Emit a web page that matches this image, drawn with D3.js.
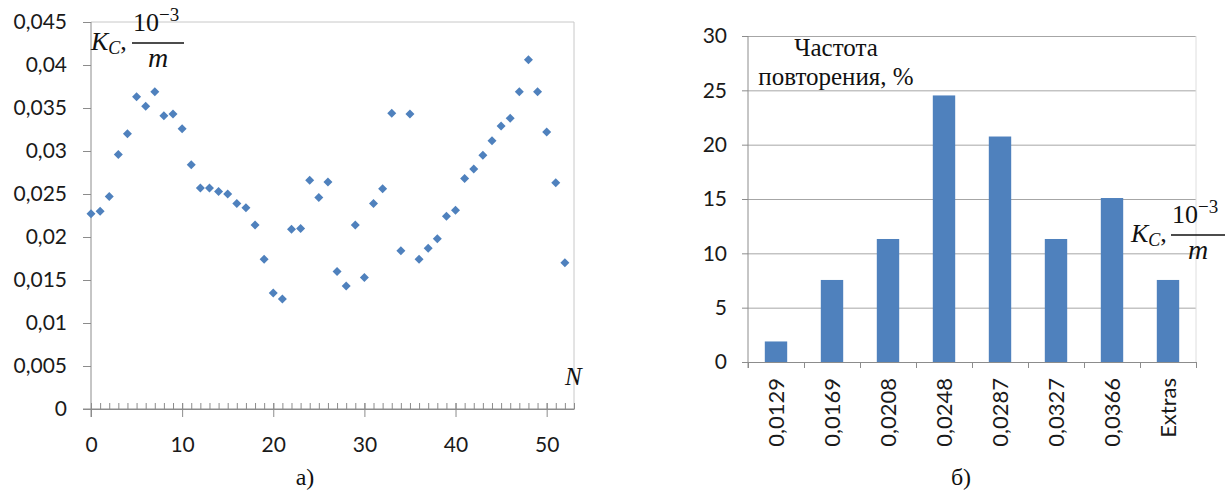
<!DOCTYPE html>
<html><head><meta charset="utf-8">
<script src="https://cdn.jsdelivr.net/npm/d3@7"></script>
<style>
html,body{margin:0;padding:0;background:#fff;}
svg{display:block;}
.tick text{font-family:Lato,"Open Sans",sans-serif;fill:#1a1a1a;}
.serif{font-family:"Liberation Serif","DejaVu Serif",serif;fill:#111;}
</style></head>
<body>
<svg id="chart" width="1230" height="497"></svg>
<script>
// ---- data: panel a) scatter ----
const sampleN = d3.range(0, 53);
const kcValues = [0.0227,0.0230,0.0247,0.0296,0.0320,0.0363,0.0352,0.0369,0.0341,0.0343,
  0.0326,0.0284,0.0257,0.0257,0.0253,0.0250,0.0239,0.0234,0.0214,0.0174,
  0.0135,0.0128,0.0209,0.0210,0.0266,0.0246,0.0264,0.0160,0.0143,0.0214,
  0.0153,0.0239,0.0256,0.0344,0.0184,0.0343,0.0174,0.0187,0.0198,0.0224,
  0.0231,0.0268,0.0279,0.0295,0.0312,0.0329,0.0338,0.0369,0.0406,0.0369,
  0.0322,0.0263,0.0170];
const yTicksA = [0,0.005,0.01,0.015,0.02,0.025,0.03,0.035,0.04,0.045];
const xTicksA = [0,10,20,30,40,50];
// ---- data: panel б) histogram ----
const binLabels = ["0,0129","0,0169","0,0208","0,0248","0,0287","0,0327","0,0366","Extras"];
const binFreq = [1.89,7.55,11.32,24.53,20.75,11.32,15.09,7.55];
const yTicksB = [0,5,10,15,20,25,30];

const svg = d3.select("#chart");
svg.append("rect").attr("width",1230).attr("height",497).attr("fill","#fff");
const fmtComma = d => String(d).replace(".", ",");
const axisCol = "#8c8c8c";

// ================= Panel a =================
const xA = d3.scaleLinear().domain([0,53]).range([91,574]);
const yA = d3.scaleLinear().domain([0,0.045]).range([409,22]);
const gA = svg.append("g");
gA.append("path").attr("d",`M${xA(0)},${yA(0.045)}H${xA(53)}V${yA(0)}`)
  .attr("fill","none").attr("stroke","#c8c8c8").attr("stroke-width",1);
gA.append("g").attr("transform",`translate(0,${yA(0)})`)
  .call(d3.axisTop(xA).tickValues(d3.range(1,54)).tickSize(6).tickFormat(""))
  .call(g=>g.select(".domain").remove())
  .call(g=>g.selectAll("line").attr("stroke",axisCol));
gA.append("g").attr("transform",`translate(0,${yA(0)})`)
  .call(d3.axisBottom(xA).tickValues(xTicksA).tickSizeInner(8).tickSizeOuter(0).tickPadding(20))
  .call(g=>g.select(".domain").attr("stroke",axisCol))
  .call(g=>g.selectAll(".tick line").attr("stroke",axisCol).attr("y1",-6))
  .call(g=>g.selectAll(".tick text").attr("font-size",21));
gA.append("line").attr("x1",xA(0)-8).attr("x2",xA(53)).attr("y1",yA(0)).attr("y2",yA(0)).attr("stroke",axisCol);
gA.append("g").attr("transform",`translate(${xA(0)},0)`)
  .call(d3.axisLeft(yA).tickValues(yTicksA).tickSizeInner(8).tickSizeOuter(0).tickPadding(16).tickFormat(fmtComma))
  .call(g=>g.select(".domain").remove())
  .call(g=>g.selectAll(".tick line").attr("stroke",axisCol))
  .call(g=>g.selectAll(".tick text").attr("font-size",21));
gA.append("line").attr("x1",xA(0)).attr("x2",xA(0)).attr("y1",yA(0.045)).attr("y2",yA(0)+8).attr("stroke",axisCol);
const diamond = {draw(ctx,size){const r=Math.sqrt(size)/2;ctx.moveTo(0,-r);ctx.lineTo(r,0);ctx.lineTo(0,r);ctx.lineTo(-r,0);ctx.closePath();}};
gA.append("g").selectAll("path").data(sampleN).join("path")
  .attr("transform",i=>`translate(${xA(i)},${yA(kcValues[i])})`)
  .attr("d",d3.symbol().type(diamond).size(81))
  .attr("fill","#4f81bd");
function kcLabel(g, x, lineY, fracX1, fracX2){
  const t = g.append("text").attr("class","serif").attr("x",x).attr("y",lineY+7).attr("font-size",26).attr("font-style","italic");
  t.append("tspan").text("K");
  t.append("tspan").attr("font-size",18).attr("dy",4).text("C");
  t.append("tspan").attr("dy",-4).attr("font-style","normal").text(",");
  g.append("line").attr("x1",fracX1).attr("x2",fracX2).attr("y1",lineY).attr("y2",lineY).attr("stroke","#111").attr("stroke-width",1.3);
  const n = g.append("text").attr("class","serif").attr("x",fracX1+1).attr("y",lineY-12).attr("font-size",26);
  n.append("tspan").text("10");
  n.append("tspan").attr("font-size",19).attr("dy",-10).text("−3");
  g.append("text").attr("class","serif").attr("x",(fracX1+fracX2)/2).attr("y",lineY+24)
    .attr("font-size",28).attr("font-style","italic").attr("text-anchor","middle").text("m");
}
kcLabel(gA, 91, 43, 132, 184);
gA.append("text").attr("class","serif").attr("x",565).attr("y",385).attr("font-size",25).attr("font-style","italic").text("N");
gA.append("text").attr("class","serif").attr("x",305).attr("y",485).attr("font-size",24).attr("text-anchor","middle").text("а)");

// ================= Panel б =================
const xB = d3.scaleBand().domain(binLabels).range([748,1196]).paddingInner(0.6).paddingOuter(0.3);
const yB = d3.scaleLinear().domain([0,30]).range([362,36]);
const xIdx = d3.scaleLinear().domain([0,binLabels.length]).range([748,1196]);
const gB = svg.append("g");
gB.append("g").attr("transform",`translate(748,0)`)
  .call(d3.axisRight(yB).tickValues(yTicksB.slice(1)).tickSize(448).tickFormat(""))
  .call(g=>g.select(".domain").remove())
  .call(g=>g.selectAll("line").attr("stroke","#a6a6a6"));
gB.append("line").attr("x1",1196).attr("x2",1196).attr("y1",yB(30)).attr("y2",yB(0)).attr("stroke","#dedede");
gB.append("g").selectAll("rect").data(binLabels).join("rect")
  .attr("x",d=>xB(d)).attr("width",xB.bandwidth())
  .attr("y",(d,i)=>yB(binFreq[i])).attr("height",(d,i)=>yB(0)-yB(binFreq[i]))
  .attr("fill","#4f81bd");
gB.append("g").attr("transform",`translate(748,0)`)
  .call(d3.axisLeft(yB).tickValues(yTicksB).tickSizeInner(6).tickSizeOuter(0).tickPadding(15))
  .call(g=>g.select(".domain").remove())
  .call(g=>g.selectAll(".tick line").attr("stroke",axisCol))
  .call(g=>g.selectAll(".tick text").attr("font-size",21));
gB.append("line").attr("x1",748).attr("x2",748).attr("y1",yB(30)).attr("y2",yB(0)+6).attr("stroke",axisCol);
gB.append("g").attr("transform",`translate(0,${yB(0)})`)
  .call(d3.axisBottom(xIdx).tickValues(d3.range(0,binLabels.length+1)).tickSizeInner(6).tickSizeOuter(0).tickFormat(""))
  .call(g=>g.select(".domain").attr("stroke",axisCol))
  .call(g=>g.selectAll(".tick line").attr("stroke",axisCol));
gB.append("g").attr("transform",`translate(0,${yB(0)})`)
  .call(d3.axisBottom(xB).tickSize(0).tickPadding(0))
  .call(g=>g.select(".domain").remove())
  .call(g=>g.selectAll(".tick text").attr("font-size",22)
     .attr("transform","translate(0,16) rotate(-90)").attr("x",0).attr("y",0).attr("dy","0.35em")
     .attr("text-anchor","end"));
const tt = gB.append("text").attr("class","serif").attr("font-size",25).attr("text-anchor","middle");
tt.append("tspan").attr("x",836).attr("y",56).text("Частота");
tt.append("tspan").attr("x",836).attr("y",85).text("повторения, %");
kcLabel(gB, 1131, 235, 1171, 1225);
gB.append("text").attr("class","serif").attr("x",961).attr("y",485).attr("font-size",24).attr("text-anchor","middle").text("б)");
</script>
</body></html>
